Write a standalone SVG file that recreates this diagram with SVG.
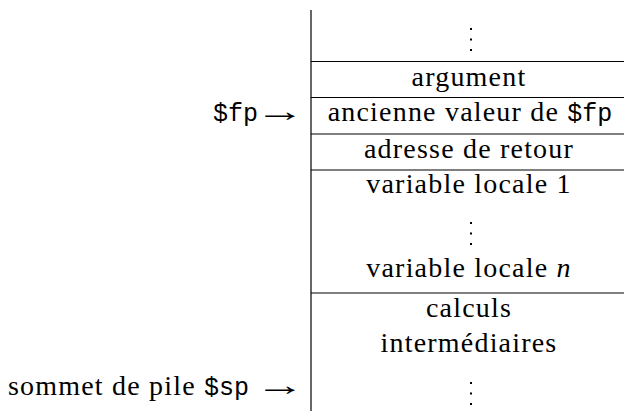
<svg xmlns="http://www.w3.org/2000/svg" width="624" height="411" viewBox="0 0 624 411">
<style>
.t{font-family:"Liberation Serif","Times New Roman",serif;font-size:28px;letter-spacing:1.2px;fill:#000;text-anchor:middle}
.l{font-family:"Liberation Serif","Times New Roman",serif;font-size:28px;letter-spacing:1.2px;fill:#000;text-anchor:end}
.m{font-family:"Liberation Mono","Courier New",monospace;font-size:25px;letter-spacing:0}
.a{font-family:"Liberation Serif","Times New Roman",serif;font-size:30px;fill:#000;text-anchor:middle}
.line{stroke:#000;stroke-width:1.2;fill:none}
.dot{fill:#000}
</style>
<rect width="624" height="411" fill="#fff"/>
<g id="frame">
<line class="line" x1="311" y1="10" x2="311" y2="411" stroke="#555"/>
<line class="line" x1="311" y1="61.5" x2="624" y2="61.5"/>
<line class="line" x1="311" y1="97.5" x2="624" y2="97.5"/>
<line class="line" x1="311" y1="134" x2="624" y2="134"/>
<line class="line" x1="311" y1="170" x2="624" y2="170"/>
<line class="line" x1="311" y1="293" x2="624" y2="293"/>
</g>
<g id="connectors"></g>
<g id="top-dots">
<rect class="dot" x="470" y="28" width="2" height="2"/>
<rect class="dot" x="470" y="38.5" width="2" height="2"/>
<rect class="dot" x="470" y="49" width="2" height="2"/>
</g>
<g id="argument"><text class="t" x="469" y="86">argument</text></g>
<g id="ancienne"><text class="t" x="470" y="121">ancienne valeur de <tspan class="m">$fp</tspan></text></g>
<g id="retour"><text class="t" x="469" y="158">adresse de retour</text></g>
<g id="locales">
<text class="t" x="469" y="193">variable locale 1</text>
<rect class="dot" x="470" y="222" width="2" height="2"/>
<rect class="dot" x="470" y="232.5" width="2" height="2"/>
<rect class="dot" x="470" y="243" width="2" height="2"/>
<text class="t" x="469" y="277">variable locale <tspan font-style="italic">n</tspan></text>
</g>
<g id="calculs">
<text class="t" x="469" y="317">calculs</text>
<text class="t" x="469" y="352">intermédiaires</text>
<rect class="dot" x="470" y="382" width="2" height="2"/>
<rect class="dot" x="470" y="392.5" width="2" height="2"/>
<rect class="dot" x="470" y="403" width="2" height="2"/>
</g>
<g id="fp-label">
<text class="l" x="258" y="121"><tspan class="m">$fp</tspan></text>
<text class="a" transform="translate(280,121) scale(1.65,1)" x="0" y="0">→</text>
</g>
<g id="sp-label">
<text class="l" x="249" y="395">sommet de pile <tspan class="m">$sp</tspan></text>
<text class="a" transform="translate(280,395) scale(1.65,1)" x="0" y="0">→</text>
</g>
</svg>
